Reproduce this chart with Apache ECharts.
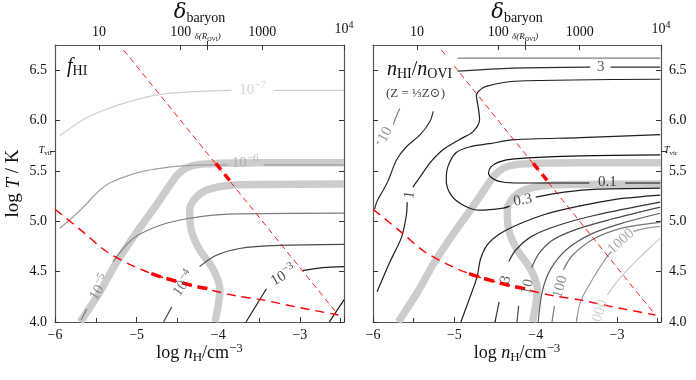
<!DOCTYPE html>
<html>
<head>
<meta charset="utf-8">
<script src="https://cdn.jsdelivr.net/npm/echarts@6/dist/echarts.min.js"></script>
<style>
  html, body { margin: 0; padding: 0; background: #fff; }
  #chart { width: 696px; height: 380px; }
</style>
</head>
<body>
<div id="chart"></div>
<script>
// axis ranges (log n_H, log T) and the delta_baryon scale on top
const xRange = [-6, -2.46];
const yRange = [4, 6.75];
const deltaOffset = 6.46;               // log delta = log nH + offset
const deltaTicks = [1, 2, 3, 4];
const deltaTickLabels = ['10', '100', '1000', '10^4'];
const deltaROVI = 2.33;
const tVir = 5.7;
const yTicks = [4, 4.5, 5, 5.5, 6, 6.5];

// grey bands (same in both panels)
const bandA = [[-5.69,4.0],[-5.45,4.30],[-5.24,4.60],[-5.0,4.89],[-4.76,5.16],[-4.60,5.35],[-4.50,5.46],[-4.39,5.53],[-4.23,5.565],[-3.98,5.575],[-3.5,5.58],[-2.46,5.58]];
const bandB = [[-4.04,4.0],[-3.98,4.32],[-4.06,4.52],[-4.23,4.72],[-4.33,4.91],[-4.35,5.11],[-4.29,5.22],[-4.14,5.31],[-3.87,5.355],[-3.46,5.365],[-2.46,5.37]];

// red dashed tracks (same in both panels)
const redIsobar = [[-5.16,6.70],[-2.53,4.07]];
const redIsobarBold = [[-4.03,5.575],[-3.82,5.365]];
const redCurve = [[-6.0,5.12],[-5.65,4.89],[-5.37,4.70],[-5.0,4.54],[-4.67,4.44],[-4.31,4.36],[-3.78,4.26],[-3.46,4.22],[-3.05,4.15],[-2.53,4.07]];
const redCurveBold = [[-4.82,4.48],[-4.67,4.44],[-4.31,4.36],[-4.12,4.33]];

// left panel: f_HI contours (segments split where labels sit)
const fHIm7 = [[[-5.94,5.85],[-5.65,6.01],[-5.41,6.10],[-5.08,6.19],[-4.71,6.26],[-4.23,6.29],[-3.84,6.30]], [[-3.32,6.30],[-2.46,6.30]]];
const fHIm6 = [[[-5.94,4.93],[-5.69,5.11],[-5.45,5.31],[-5.33,5.38],[-5.04,5.47],[-4.76,5.52],[-4.43,5.55],[-4.1,5.56],[-3.89,5.56]], [[-3.44,5.56],[-2.46,5.56]]];
const fHIm5 = [[[-5.68,4.02],[-5.61,4.13]], [[-5.29,4.60],[-5.04,4.83],[-4.71,4.96],[-4.35,5.03],[-3.87,5.07],[-2.46,5.08]]];
const fHIm4 = [[[-4.67,4.0],[-4.57,4.15]], [[-4.23,4.55],[-4.03,4.66],[-3.74,4.73],[-3.25,4.76],[-2.46,4.77]]];
const fHIm3 = [[[-3.66,4.0],[-3.41,4.33]], [[-2.97,4.51],[-2.72,4.54],[-2.46,4.55]]];
const fHIm2 = [[[-2.64,4.0],[-2.46,4.22]]];
const fHIColors = ['#cfcfcf', '#a0a0a0', '#7c7c7c', '#4a4a4a', '#1e1e1e', '#111111'];
// contour labels: x, y, text, rotation
const fHILabels = [[-3.58,6.30,'10^−7',0], [-3.67,5.58,'10^−6',0], [-5.45,4.34,'10^−5',58], [-4.42,4.38,'10^−4',55], [-3.20,4.46,'10^−3',30]];

// right panel: n_HI / n_OVI contours
const r10 = [[[-4.96,6.62],[-4.0,6.62],[-2.47,6.62]], [[-5.67,6.12],[-5.72,6.03],[-5.75,5.96]], [[-5.93,5.79],[-5.95,5.77]]];
const r3 = [[[-4.96,6.49],[-4.29,6.52],[-3.33,6.53]], [[-3.08,6.53],[-2.47,6.53]],
            [[-5.26,6.09],[-5.30,5.99],[-5.42,5.86],[-5.59,5.74],[-5.71,5.61],[-5.81,5.41],[-5.88,5.30],[-5.95,5.20],[-5.98,5.12]]];
const r1 = [[[-2.47,6.41],[-4.26,6.39],[-4.61,6.34],[-4.69,6.30],[-4.73,6.25],[-4.71,6.15],[-4.69,6.01],[-4.77,5.89],[-4.94,5.81],[-5.14,5.71],[-5.30,5.58],[-5.42,5.44],[-5.51,5.34]],
            [[-5.58,5.19],[-5.59,5.06],[-5.65,4.84],[-5.79,4.60],[-5.95,4.30]]];
const r03 = [[[-2.47,5.86],[-3.45,5.83],[-4.26,5.81],[-4.57,5.77],[-4.81,5.74],[-4.98,5.68],[-5.08,5.54],[-5.10,5.41],[-5.04,5.26],[-4.89,5.16],[-4.69,5.11],[-4.40,5.13],[-4.32,5.15]],
             [[-4.00,5.24],[-3.65,5.29],[-3.24,5.32],[-2.47,5.33]]];
const r01 = [[[-3.34,5.38],[-3.88,5.38],[-4.2,5.38],[-4.41,5.39],[-4.52,5.42],[-4.58,5.48],[-4.55,5.54],[-4.45,5.59],[-4.26,5.62],[-3.45,5.65],[-2.47,5.66]],
             [[-2.90,5.38],[-2.47,5.38]]];
const r1b = [[[-4.92,4.0],[-4.82,4.22],[-4.72,4.45],[-4.68,4.62],[-4.60,4.76],[-4.45,4.87],[-4.21,4.97],[-3.88,5.07],[-3.47,5.15],[-3.0,5.22],[-2.47,5.26]]];
const r3b = [[[-4.50,4.0],[-4.45,4.20]], [[-4.33,4.60],[-4.25,4.71],[-4.05,4.85],[-3.72,4.96],[-3.27,5.06],[-2.47,5.19]]];
const r10b = [[[-4.23,4.0],[-4.21,4.16]], [[-4.05,4.54],[-3.96,4.68],[-3.80,4.81],[-3.50,4.92],[-3.07,5.02],[-2.47,5.14]]];
const r30b = [[[-3.97,4.0],[-3.92,4.3],[-3.82,4.52],[-3.62,4.72],[-3.3,4.88],[-2.9,4.99],[-2.47,5.08]]];
const r100b = [[[-3.80,4.0],[-3.77,4.16]], [[-3.66,4.52],[-3.55,4.66],[-3.3,4.82],[-2.95,4.93],[-2.47,4.99]]];
const r1000b = [[[-3.50,4.0],[-3.45,4.2],[-3.32,4.40],[-3.15,4.62],[-3.07,4.70]], [[-2.80,4.90],[-2.65,4.93],[-2.47,4.95]]];
const r3000b = [[[-3.12,4.27],[-2.95,4.45],[-2.75,4.62],[-2.58,4.75],[-2.47,4.83]]];
const ratioLineColors = ['#808080', '#2e2e2e', '#1e1e1e', '#1e1e1e', '#111111', '#1e1e1e', '#333333', '#4a4a4a', '#5a5a5a', '#777777', '#9a9a9a', '#c8c8c8'];
const ratioLabels = [[-3.20,6.53,'3',0], [-5.85,5.86,'10',62], [-5.55,5.26,'1',82], [-4.16,5.21,'0.3',10], [-3.12,5.39,'0.1',0],
                     [-4.37,4.42,'3',75], [-4.10,4.35,'10',78], [-3.70,4.35,'100',75], [-2.95,4.80,'1000',42], [-3.21,4.11,'000',72]];
const ratioLabelColors = ['#333','#777','#222','#222','#111','#333','#4a4a4a','#777','#9a9a9a','#c8c8c8'];

const serif = "'Liberation Serif', 'DejaVu Serif', serif";
const chart = echarts.init(document.getElementById('chart'));

function segSeries(grid, segs, color, width, extra) {
  return segs.map(seg => Object.assign({
    type: 'line', xAxisIndex: grid * 4, yAxisIndex: grid * 3, data: seg,
    symbol: 'none', smooth: 0.3, silent: true, animation: false, z: 3,
    lineStyle: { color: color, width: width }
  }, extra || {}));
}

function labelText(t) {
  const m = t.split('^');
  return m.length > 1 ? '{b|' + m[0] + '}{s|' + m[1] + '}' : '{b|' + t + '}';
}

function labelSeries(grid, labels, colors) {
  return {
    type: 'scatter', xAxisIndex: grid * 4, yAxisIndex: grid * 3, symbolSize: 0, silent: true, animation: false, z: 6,
    data: labels.map((l, i) => ({
      value: [l[0], l[1]],
      label: {
        show: true, position: 'inside', rotate: l[3], formatter: labelText(l[2]),
        rich: {
          b: { fontFamily: serif, fontSize: 15, color: colors[i] },
          s: { fontFamily: serif, fontSize: 11, color: colors[i], padding: [0, 0, 10, 0] }
        }
      }
    }))
  };
}

function trackSeries(grid) {
  return [
    ...segSeries(grid, [bandA, bandB], '#cccccc', 7.5, { z: 1, smooth: 0.3 }),
    ...segSeries(grid, [redIsobar], '#ff0000', 0.9, { z: 5, smooth: false, lineStyle: { color: '#ff0000', width: 0.9, type: [6, 4] } }),
    ...segSeries(grid, [redIsobarBold], '#ff0000', 3.5, { z: 5, smooth: false, lineStyle: { color: '#ff0000', width: 3.5, type: [8, 6] } }),
    ...segSeries(grid, [redCurve], '#ff0000', 1.4, { z: 5, lineStyle: { color: '#ff0000', width: 1.4, type: [9, 6] } }),
    ...segSeries(grid, [redCurveBold], '#ff0000', 3.5, { z: 5, lineStyle: { color: '#ff0000', width: 3.5, type: [10, 6] } })
  ];
}

const tickLabelStyle = { fontFamily: serif, fontSize: 14, color: '#111' };
const frame = { show: true, lineStyle: { color: '#555', width: 1.2 } };

function axesFor(grid, yLabelSide) {
  const xs = [
    { // bottom log nH
      type: 'value', gridIndex: grid, position: 'bottom', min: xRange[0], max: xRange[1], interval: 1,
      axisLine: frame, splitLine: { show: false },
      axisTick: { inside: true, length: 5, lineStyle: { color: '#333' } },
      minorTick: { show: true, splitNumber: 2, length: 4, lineStyle: { color: '#333' } },
      axisLabel: Object.assign({ margin: 6, formatter: v => (v < 0 ? '\u2212' : '') + Math.abs(v), showMaxLabel: false }, tickLabelStyle),
      name: '{r|log }{i|n}{sub|H}{r|/cm}{sup|\u22123}', nameLocation: 'middle', nameGap: 20, nameMoveOverlap: false,
      nameTextStyle: { rich: {
        r: { fontFamily: serif, fontSize: 18, color: '#111' },
        i: { fontFamily: serif, fontSize: 18, fontStyle: 'italic', color: '#111' },
        sub: { fontFamily: serif, fontSize: 13, color: '#111', padding: [8, 0, 0, 0] },
        sup: { fontFamily: serif, fontSize: 13, color: '#111', padding: [0, 0, 10, 0] }
      } }
    },
    { // top delta_baryon
      type: 'value', gridIndex: grid, position: 'top', min: xRange[0] + deltaOffset, max: xRange[1] + deltaOffset,
      axisLine: frame, splitLine: { show: false },
      axisTick: { inside: true, length: 5, customValues: deltaTicks.concat([deltaROVI]), lineStyle: { color: '#333' } },
      axisLabel: Object.assign({ margin: 6, customValues: deltaTicks, formatter: v => labelText(deltaTickLabels[deltaTicks.indexOf(v)]),
        rich: { b: { fontFamily: serif, fontSize: 14, color: '#111' }, s: { fontFamily: serif, fontSize: 10, color: '#111', padding: [0, 0, 9, 0] } } }, tickLabelStyle),
      name: '{d|\u03b4}{sub|baryon}', nameLocation: 'middle', nameGap: 20, nameMoveOverlap: false,
      nameTextStyle: { rich: {
        d: { fontFamily: "'DejaVu Serif', serif", fontSize: 21, fontStyle: 'italic', color: '#111' },
        sub: { fontFamily: serif, fontSize: 14, color: '#111', padding: [10, 0, 0, 0] }
      } }
    },
    { // delta(R_OVI) marker
      type: 'value', gridIndex: grid, position: 'top', min: xRange[0] + deltaOffset, max: xRange[1] + deltaOffset,
      axisLine: { show: false }, splitLine: { show: false },
      axisTick: { inside: false, length: 4, customValues: [deltaROVI], lineStyle: { color: '#333' } },
      axisLabel: { margin: 3, customValues: [deltaROVI], formatter: () => '{i|\u03b4(R}{sub|OVI}{i|)}',
        rich: { i: { fontFamily: serif, fontSize: 9, fontStyle: 'italic', color: '#111' }, sub: { fontFamily: serif, fontSize: 6, color: '#111', padding: [4, 0, 0, 0] } } }
    },
    { // spare (keeps index pattern)
      type: 'value', gridIndex: grid, show: false, min: xRange[0], max: xRange[1]
    }
  ];
  const labelled = {
    type: 'value', gridIndex: grid, position: yLabelSide, min: yRange[0], max: yRange[1], interval: 0.5,
    axisLine: frame, splitLine: { show: false },
    axisTick: { inside: true, length: 5, customValues: yTicks, lineStyle: { color: '#333' } },
    axisLabel: Object.assign({ margin: 8, customValues: yTicks, formatter: v => v.toFixed(1) }, tickLabelStyle)
  };
  if (yLabelSide === 'left') {
    labelled.name = '{r|log }{i|T}{r| / K}';
    labelled.nameLocation = 'middle';
    labelled.nameGap = 32;
    labelled.nameMoveOverlap = false;
    labelled.nameTextStyle = { rich: {
      r: { fontFamily: serif, fontSize: 19, color: '#111' },
      i: { fontFamily: serif, fontSize: 19, fontStyle: 'italic', color: '#111' }
    } };
  }
  const mirror = {
    type: 'value', gridIndex: grid, position: yLabelSide === 'left' ? 'right' : 'left', min: yRange[0], max: yRange[1], interval: 0.5,
    axisLine: frame, splitLine: { show: false },
    axisTick: { inside: true, length: 5, customValues: yTicks, lineStyle: { color: '#333' } },
    axisLabel: { show: false }
  };
  const tv = {
    type: 'value', gridIndex: grid, position: yLabelSide, min: yRange[0], max: yRange[1],
    axisLine: { show: false }, splitLine: { show: false },
    axisTick: { inside: false, length: 5, customValues: [tVir], lineStyle: { color: '#333' } },
    axisLabel: { margin: 3, customValues: [tVir], formatter: () => '{i|T}{sub|vir}',
      rich: { i: { fontFamily: serif, fontSize: 10, fontStyle: 'italic', color: '#111' }, sub: { fontFamily: serif, fontSize: 7, color: '#111', padding: [4, 0, 0, 0] } } }
  };
  return { xs, ys: [labelled, mirror, tv] };
}

const a0 = axesFor(0, 'left');
const a1 = axesFor(1, 'right');

const fHISegs = [fHIm7, fHIm6, fHIm5, fHIm4, fHIm3, fHIm2];
const ratioSegs = [r10, r3, r1, r03, r01, r1b, r3b, r10b, r30b, r100b, r1000b, r3000b];

const series = [
  ...trackSeries(0),
  ...fHISegs.flatMap((s, i) => segSeries(0, s, fHIColors[i], 1.2)),
  labelSeries(0, fHILabels, ['#c8c8c8', '#a8a8a8', '#7c7c7c', '#4a4a4a', '#1e1e1e']),
  ...trackSeries(1),
  ...ratioSegs.flatMap((s, i) => segSeries(1, s, ratioLineColors[i], 1.2)),
  labelSeries(1, ratioLabels, ratioLabelColors)
];

chart.setOption({
  animation: false,
  backgroundColor: '#fff',
  grid: [
    { left: 55, top: 45, width: 289, height: 277, show: false, containLabel: false, outerBoundsMode: 'none' },
    { left: 373, top: 45, width: 288, height: 277, show: false, containLabel: false, outerBoundsMode: 'none' }
  ],
  xAxis: [...a0.xs, ...a1.xs],
  yAxis: [...a0.ys, ...a1.ys],
  graphic: [
    { type: 'text', left: 67, top: 57, z: 10, style: { rich: {
        i: { fontFamily: serif, fontSize: 20, fontStyle: 'italic', fill: '#111' },
        sub: { fontFamily: serif, fontSize: 14, fill: '#111', padding: [8, 0, 0, 0] } },
      text: '{i|f}{sub|HI}' } },
    { type: 'text', left: 385, top: 57, z: 10, style: { backgroundColor: '#fff', padding: [2, 2, 2, 2], rich: {
        i: { fontFamily: serif, fontSize: 20, fontStyle: 'italic', fill: '#111' },
        r: { fontFamily: serif, fontSize: 20, fill: '#111' },
        sub: { fontFamily: serif, fontSize: 14, fill: '#111', padding: [8, 0, 0, 0] } },
      text: '{i|n}{sub|HI}{r|/}{i|n}{sub|OVI}' } },
    { type: 'text', left: 384, top: 86, z: 10, style: { backgroundColor: '#fff', padding: [1, 2, 1, 2], rich: {
        r: { fontFamily: serif, fontSize: 13, fill: '#444' } },
      text: '{r|(Z = \u2153Z\u2299)}' } }
  ],
  series: series
});
</script>
</body>
</html>
